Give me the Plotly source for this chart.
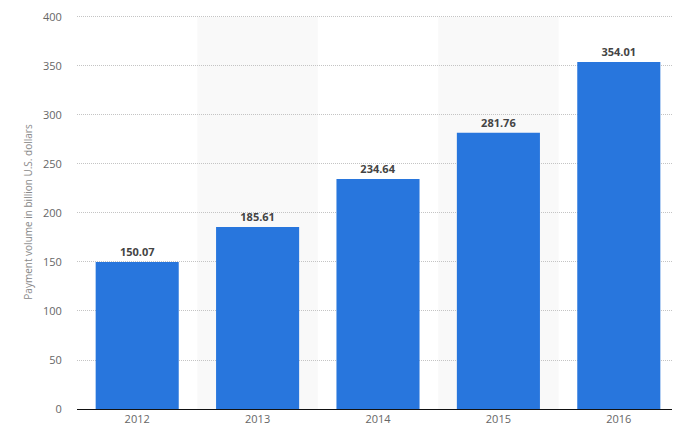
import plotly.graph_objects as go

years = ["2012", "2013", "2014", "2015", "2016"]
volume = [150.07, 185.61, 234.64, 281.76, 354.01]
y_ticks = [0, 50, 100, 150, 200, 250, 300, 350, 400]

bar_color = "#2876dd"

fig = go.Figure()

fig.add_trace(go.Bar(
    x=years,
    y=volume,
    marker=dict(color=bar_color, line=dict(width=0)),
    text=[f"{v:.2f}" for v in volume],
    textposition="outside",
    textfont=dict(family="Open Sans", size=11, color="#444444"),
    texttemplate="<b>%{text}</b>",
    cliponaxis=False,
    hoverinfo="x+y",
))

# light shading behind every second category
for i, _ in enumerate(years):
    if i % 2 == 1:
        fig.add_shape(type="rect", xref="x", yref="y",
                      x0=i - 0.5, x1=i + 0.5, y0=0, y1=y_ticks[-1],
                      fillcolor="#f9f9f9", line=dict(width=0), layer="below")

# page body adds an 8px offset, so the figure is a bit smaller than the window
fig.update_layout(
    width=672,
    height=438,
    margin=dict(l=69, r=1, t=5, b=37),
    plot_bgcolor="white",
    paper_bgcolor="white",
    showlegend=False,
    bargap=0.31,
    font=dict(family="Open Sans", size=11, color="#666666"),
)

fig.update_xaxes(
    type="category",
    range=[-0.5, len(years) - 0.5],
    showline=True,
    linecolor="#111111",
    linewidth=1,
    showgrid=False,
    ticks="",
    tickfont=dict(size=11, color="#666666"),
)

fig.update_yaxes(
    range=[0, 402],
    tickvals=y_ticks,
    showgrid=True,
    gridcolor="#c4c4c4",
    griddash="1px,1px",
    gridwidth=1,
    zeroline=False,
    showline=False,
    ticks="outside",
    ticklen=12,
    tickcolor="rgba(0,0,0,0)",
    ticklabeloverflow="allow",
    tickfont=dict(size=11, color="#666666"),
    title=dict(text="Payment volume in billion U.S. dollars",
               font=dict(size=10, color="#888888"), standoff=8),
)

fig.write_html("out.html")
